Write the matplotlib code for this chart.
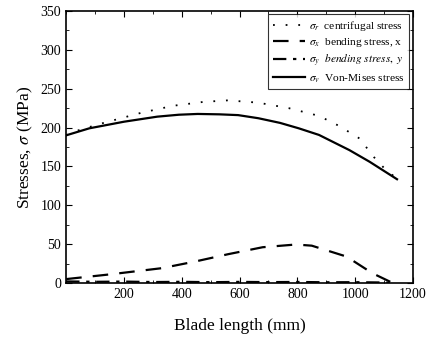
import matplotlib
matplotlib.use("Agg")
import matplotlib.pyplot as plt
from matplotlib.ticker import MultipleLocator

# blade length positions (mm) and stresses (MPa)
x_cent = [0, 20, 120, 260, 370, 475, 560, 665, 770, 875, 945, 1015, 1065, 1100, 1145]
s_cent = [190, 194, 205, 219, 228, 233, 235, 232, 225, 215, 202, 186, 162, 148, 134]

x_bend_x = [0, 150, 330, 445, 560, 680, 795, 850, 970, 1060, 1130]
s_bend_x = [5, 11, 19, 27.5, 37, 46, 49.5, 48, 34, 12.5, 0]

x_bend_y = [0, 100, 200, 300, 400, 500, 600, 700, 800, 900, 1000, 1100, 1130]
s_bend_y = [2, 1.5, 1.8, 1.2, 1.5, 1.0, 1.4, 1.1, 1.3, 0.9, 1.0, 0.6, 0]

x_von = [0, 80, 200, 315, 390, 455, 530, 595, 665, 740, 805, 875, 980, 1050, 1145]
s_von = [190, 199, 207.5, 214, 216.5, 217.5, 217, 216, 212, 206, 199, 190.5, 171, 156, 133.5]

plt.rcParams['font.family'] = ['Liberation Serif', 'DejaVu Serif']
plt.rcParams['mathtext.fontset'] = 'stix'

fig = plt.figure(figsize=(4.27, 3.43), dpi=100)
ax = fig.add_axes([0.155, 0.175, 0.812, 0.793])

ax.plot(x_cent, s_cent, color='black', lw=1.3, linestyle=(0, (1, 6)),
        label=r'$\sigma_r$  centrifugal stress')
ax.plot(x_bend_x, s_bend_x, color='black', lw=1.6, linestyle=(0, (7, 5)),
        label=r'$\sigma_x$  bending stress, x')
ax.plot(x_bend_y, s_bend_y, color='black', lw=1.6, linestyle=(0, (6, 3, 1.5, 3)),
        label=r'$\sigma_y$  $\it{bending\ stress,\ y}$')
ax.plot(x_von, s_von, color='black', lw=1.6, linestyle='-',
        label=r'$\sigma_v$  Von-Mises stress')

ax.set_xlim(0, 1200)
ax.set_ylim(0, 350)
ax.yaxis.set_major_locator(MultipleLocator(50))
ax.yaxis.set_minor_locator(MultipleLocator(25))
ax.xaxis.set_minor_locator(MultipleLocator(100))
ax.set_xticks([200, 400, 600, 800, 1000, 1200])
ax.tick_params(which='both', direction='in', right=True, top=True, labelsize=10)
ax.tick_params(which='major', length=4)
ax.tick_params(which='minor', length=2)
for sp in ax.spines.values():
    sp.set_linewidth(1.2)

ax.set_xlabel('Blade length (mm)', fontsize=12.5, labelpad=12)
ax.set_ylabel(r'Stresses, $\sigma$ (MPa)', fontsize=12.5, labelpad=4)

leg = ax.legend(loc='upper right', fontsize=8.2, frameon=True, fancybox=False,
                edgecolor='black', handlelength=2.8, borderpad=0.4,
                labelspacing=0.3, handletextpad=0.4, borderaxespad=0.3)
leg.get_frame().set_linewidth(0.8)

fig.savefig('out.png', dpi=100)
